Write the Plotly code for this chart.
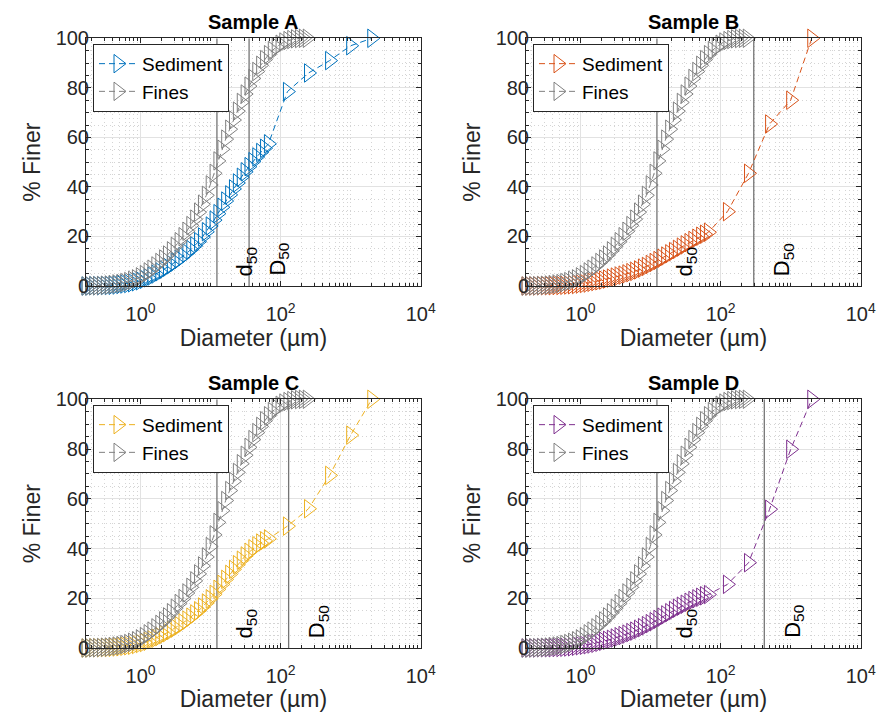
import numpy as np
import plotly.graph_objects as go

# Laser-diffraction size classes (µm) and sieve sizes (µm)
size_um = [0.166, 0.188, 0.214, 0.243, 0.276, 0.314, 0.357, 0.405, 0.46, 0.523,
           0.594, 0.675, 0.767, 0.872, 0.991, 1.13, 1.28, 1.45, 1.65, 1.88,
           2.13, 2.42, 2.75, 3.12, 3.55, 4.03, 4.58, 5.21, 5.92, 6.72,
           7.64, 8.68, 9.86, 11.2, 12.7, 14.5, 16.4, 18.7, 21.2, 24.1,
           27.4, 31.1, 35.3, 40.1, 45.6, 51.8, 58.9, 66.9, 76.0, 86.4,
           98.1, 111, 127, 144, 163, 186, 211, 240]
sieve_um = [125, 250, 500, 1000, 2000]

samples = ["Sample A", "Sample B", "Sample C", "Sample D"]
sed_colors = ["#0072BD", "#D95319", "#EDB120", "#7E2F8E"]
fines_color = "#808080"

# Cumulative % finer of the fines fraction (all size classes)
fines_a = [0.0, 0.0, 0.1, 0.1, 0.2, 0.3, 0.4, 0.6, 0.8, 1.0,
           1.4, 1.8, 2.3, 2.9, 3.7, 4.6, 5.7, 6.8, 8.1, 9.5,
           10.9, 12.5, 14.2, 16.0, 17.9, 19.9, 22.1, 24.4, 27.0, 29.8,
           33.0, 36.6, 40.8, 45.5, 50.5, 55.2, 59.3, 63.3, 67.0, 70.6,
           74.1, 77.5, 80.7, 83.8, 86.6, 89.1, 91.4, 93.4, 95.1, 96.5,
           97.6, 98.5, 99.1, 99.5, 99.8, 99.9, 100.0, 100.0]
fines_b = list(fines_a)
fines_c = list(fines_a)
fines_d = list(fines_a)

# Cumulative % finer of the whole sediment: laser classes up to 66.9 µm ...
sed_a_laser = [0.0, 0.0, 0.1, 0.1, 0.1, 0.2, 0.2, 0.3, 0.4, 0.6,
               0.8, 1.0, 1.3, 1.7, 2.1, 2.7, 3.3, 4.0, 4.8, 5.7,
               6.6, 7.6, 8.6, 9.7, 10.8, 12.0, 13.3, 14.7, 16.2, 17.9,
               19.8, 21.9, 24.2, 26.6, 29.2, 31.8, 34.3, 36.8, 39.2, 41.6,
               43.9, 46.1, 48.2, 50.2, 52.1, 53.9, 55.6, 57.4]
sed_b_laser = [0.0, 0.0, 0.0, 0.0, 0.1, 0.1, 0.1, 0.1, 0.2, 0.2,
               0.3, 0.4, 0.5, 0.6, 0.8, 1.0, 1.2, 1.5, 1.8, 2.1,
               2.4, 2.8, 3.2, 3.6, 4.0, 4.4, 4.9, 5.4, 5.9, 6.5,
               7.2, 7.9, 8.7, 9.5, 10.3, 11.2, 12.1, 13.0, 13.9, 14.8,
               15.7, 16.6, 17.5, 18.4, 19.3, 20.1, 20.9, 21.7]
sed_c_laser = [0.0, 0.0, 0.1, 0.1, 0.1, 0.2, 0.2, 0.3, 0.4, 0.5,
               0.7, 0.9, 1.1, 1.4, 1.8, 2.2, 2.7, 3.3, 3.9, 4.6,
               5.4, 6.2, 7.1, 8.0, 9.0, 10.1, 11.2, 12.4, 13.7, 15.0,
               16.5, 18.1, 19.8, 21.6, 23.6, 25.6, 27.6, 29.6, 31.6, 33.5,
               35.3, 37.0, 38.5, 39.9, 41.1, 42.2, 43.1, 43.9]
sed_d_laser = [0.0, 0.0, 0.0, 0.0, 0.1, 0.1, 0.1, 0.1, 0.2, 0.2,
               0.3, 0.4, 0.5, 0.7, 0.9, 1.1, 1.3, 1.6, 1.9, 2.3,
               2.7, 3.1, 3.5, 4.0, 4.5, 5.0, 5.6, 6.2, 6.8, 7.5,
               8.2, 9.0, 9.8, 10.6, 11.5, 12.4, 13.3, 14.2, 15.1, 16.0,
               16.8, 17.6, 18.4, 19.1, 19.8, 20.4, 21.0, 21.5]
# ... followed by the sieve fractions
sed_a_sieve = [78.5, 86.0, 91.0, 97.0, 100.0]
sed_b_sieve = [30.0, 45.5, 65.4, 75.0, 100.0]
sed_c_sieve = [49.0, 56.0, 69.4, 85.6, 100.0]
sed_d_sieve = [25.6, 34.3, 55.8, 79.9, 100.0]

# Median diameters: d50 of the fines, D50 of the whole sediment (µm)
d50_fines = [12.3, 12.3, 12.3, 12.3]
D50_sed = [35.4, 297, 130, 420]

fines_all = [fines_a, fines_b, fines_c, fines_d]
sed_laser_all = [sed_a_laser, sed_b_laser, sed_c_laser, sed_d_laser]
sed_sieve_all = [sed_a_sieve, sed_b_sieve, sed_c_sieve, sed_d_sieve]

W, H = 880, 712
FONT = "Liberation Sans, Arial, Helvetica, sans-serif"
INK = "#262626"

# plot-area boxes in pixels: (left, right, top, bottom)
boxes = [(86, 420.7, 38.3, 286), (526, 860.7, 38.3, 286),
         (86, 420.7, 399.3, 648), (526, 860.7, 399.3, 648)]

x_min = 0.166
minor_x = [m * 10.0 ** k for k in range(-1, 4) for m in range(1, 10)
           if m * 10.0 ** k >= x_min and m * 10.0 ** k not in (1, 100, 10000)]

fig = go.Figure()
layout = dict(
    width=W, height=H, template="none",
    margin=dict(l=0, r=0, t=0, b=0), autosize=False,
    paper_bgcolor="white", plot_bgcolor="white",
    font=dict(family=FONT, color=INK),
    showlegend=True, annotations=[],
)

for i in range(4):
    n = "" if i == 0 else str(i + 1)
    xa, ya = "x" + n, "y" + n
    left, right, top, bottom = boxes[i]
    col = sed_colors[i]
    n_lab = len(sed_laser_all[i])
    legend_name = "legend" + n

    # median-diameter reference lines
    for v in (d50_fines[i], D50_sed[i]):
        fig.add_trace(go.Scatter(x=[v, v], y=[0, 100], mode="lines", xaxis=xa, yaxis=ya,
                                 line=dict(color="#747474", width=1.3),
                                 showlegend=False, hoverinfo="skip"))

    fig.add_trace(go.Scatter(
        x=size_um[:n_lab] + sieve_um, y=sed_laser_all[i] + sed_sieve_all[i],
        mode="lines+markers", name="Sediment", xaxis=xa, yaxis=ya, legend=legend_name,
        line=dict(color=col, width=1, dash="6px,4px"),
        marker=dict(symbol="triangle-right-open", size=16, color=col, line=dict(width=1, color=col)),
        cliponaxis=False))
    fig.add_trace(go.Scatter(
        x=size_um, y=fines_all[i],
        mode="lines+markers", name="Fines", xaxis=xa, yaxis=ya, legend=legend_name,
        line=dict(color=fines_color, width=1, dash="6px,4px"),
        marker=dict(symbol="triangle-right-open", size=16, color=fines_color,
                    line=dict(width=1, color=fines_color)),
        cliponaxis=False))

    common = dict(showline=True, linecolor=INK, linewidth=1, mirror="allticks",
                  ticks="inside", ticklen=5, tickcolor=INK, tickwidth=1,
                  showgrid=True, gridcolor="#e2e2e2", gridwidth=1, zeroline=False,
                  automargin=False, tickfont=dict(family=FONT, size=20, color=INK),
                  title_font=dict(family=FONT, size=23, color=INK))
    minor_style = dict(ticks="inside", ticklen=3, tickcolor=INK, showgrid=True,
                       gridcolor="#d4d4d4", griddash="1px,3px", gridwidth=1)
    layout["xaxis" + n] = dict(
        common, type="log", domain=[left / W, right / W], anchor=ya,
        range=[np.log10(x_min), 4],
        tickmode="array", tickvals=[1, 100, 10000],
        ticktext=["10<sup>0</sup>", "10<sup>2</sup>", "10<sup>4</sup>"],
        ticklabelstandoff=10,
        minor=dict(minor_style, tickmode="array", tickvals=minor_x),
        title=dict(text="Diameter (µm)", standoff=3))
    layout["yaxis" + n] = dict(
        common, domain=[1 - bottom / H, 1 - top / H], anchor=xa,
        range=[0, 100], tickmode="linear", tick0=0, dtick=20,
        ticklabelstandoff=-8,
        minor=dict(minor_style, dtick=5),
        title=dict(text="% Finer", standoff=8))

    layout[legend_name] = dict(
        x=(left + 7) / W, y=1 - (top + 5.5) / H, xanchor="left", yanchor="top",
        xref="paper", yref="paper",
        bgcolor="white", bordercolor=INK, borderwidth=1,
        font=dict(family=FONT, size=19, color="black"), tracegroupgap=0, itemwidth=38)

    layout["annotations"].append(dict(
        text="<b>" + samples[i] + "</b>", x=(left + right) / 2 / W, y=1 - (top - 16.5) / H,
        xref="paper", yref="paper", xanchor="center", yanchor="middle", showarrow=False,
        font=dict(family=FONT, size=20, color="black")))
    for v, lab in ((d50_fines[i], "d<sub>50</sub>"), (D50_sed[i], "D<sub>50</sub>")):
        layout["annotations"].append(dict(
            text=lab, x=np.log10(v), y=0, xref=xa, yref=ya, textangle=-90,
            xanchor="left", yanchor="bottom", xshift=13, yshift=8, showarrow=False,
            font=dict(family=FONT, size=22, color="black")))

fig.update_layout(**layout)
fig.write_html("out.html")
